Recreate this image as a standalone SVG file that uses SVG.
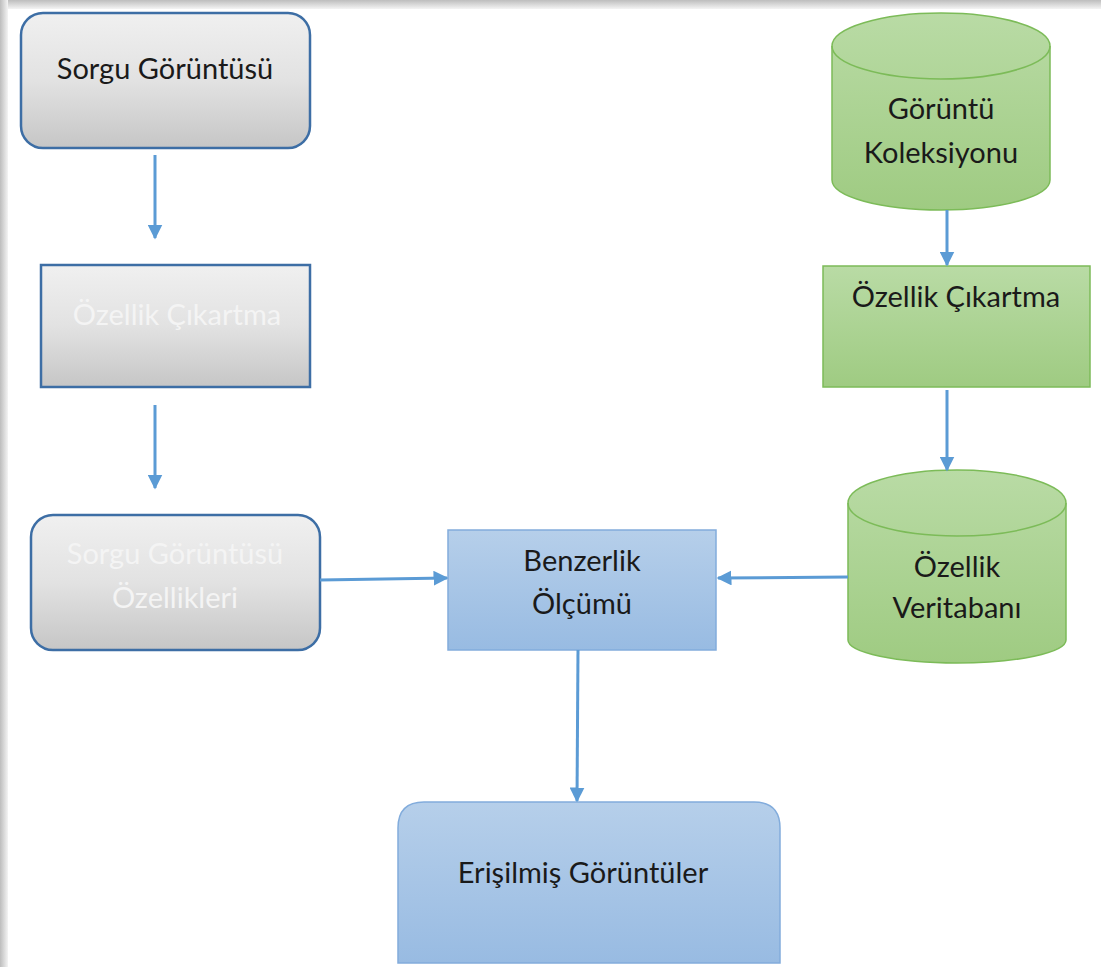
<svg xmlns="http://www.w3.org/2000/svg" width="1101" height="967" viewBox="0 0 1101 967">
<defs>
<linearGradient id="gGray" x1="0" y1="0" x2="0" y2="1"><stop offset="0" stop-color="#f0f0f0"/><stop offset="0.5" stop-color="#e2e2e2"/><stop offset="1" stop-color="#c6c6c6"/></linearGradient>
<linearGradient id="gBlue" x1="0" y1="0" x2="0" y2="1"><stop offset="0" stop-color="#b6cfea"/><stop offset="1" stop-color="#98bbe2"/></linearGradient>
<linearGradient id="gGreen" x1="0" y1="0" x2="0" y2="1"><stop offset="0" stop-color="#b9dba5"/><stop offset="1" stop-color="#9fcb82"/></linearGradient>
<linearGradient id="shTop" x1="0" y1="0" x2="0" y2="1"><stop offset="0" stop-color="#bdbdbd"/><stop offset="1" stop-color="#f4f4f4"/></linearGradient>
<linearGradient id="shLeft" x1="0" y1="0" x2="1" y2="0"><stop offset="0" stop-color="#bdbdbd"/><stop offset="1" stop-color="#f4f4f4"/></linearGradient>
<marker id="ah" markerWidth="5" markerHeight="5" refX="4.5" refY="2.5" orient="auto" markerUnits="strokeWidth"><path d="M0,0 L5,2.5 L0,5 Z" fill="#5b9bd5"/></marker>
<style>
.t{font-family:"Lato","Liberation Sans",sans-serif;font-size:29px;text-anchor:middle;fill:#1a1a1a}
.w{fill:#f4f4f4}
.gray{fill:url(#gGray);stroke:#3d6ea5;stroke-width:2.5}
.blue{fill:url(#gBlue);stroke:#82acdc;stroke-width:1.5}
.green{fill:url(#gGreen);stroke:#7cbb58;stroke-width:1.5}
.c{fill:none;stroke:#5b9bd5;stroke-width:3;marker-end:url(#ah)}
</style>
</defs>
<rect width="1101" height="967" fill="#ffffff"/>
<rect x="0" y="0" width="1101" height="9" fill="url(#shTop)"/>
<rect x="0" y="0" width="8" height="967" fill="url(#shLeft)"/>
<g id="sorgu-goruntusu">
<rect class="gray" x="21" y="13" width="289" height="135" rx="22"/>
<text class="t" x="165" y="79">Sorgu Görüntüsü</text>
</g>
<g id="ozellik-cikartma-left">
<rect class="gray" x="41" y="265" width="269" height="122"/>
<text class="t w" x="177" y="325">Özellik Çıkartma</text>
</g>
<g id="sorgu-ozellikleri">
<rect class="gray" x="31" y="515" width="289" height="135" rx="22"/>
<text class="t w" x="175" y="564">Sorgu Görüntüsü</text>
<text class="t w" x="175" y="608">Özellikleri</text>
</g>
<g id="benzerlik">
<rect class="blue" x="448" y="530" width="268" height="120"/>
<text class="t" x="582" y="571">Benzerlik</text>
<text class="t" x="582" y="614">Ölçümü</text>
</g>
<g id="erisilmis">
<path class="blue" d="M398,963 V828 Q398,802 424,802 H754 Q780,802 780,828 V963 Z"/>
<text class="t" x="583" y="883">Erişilmiş Görüntüler</text>
</g>
<g id="goruntu-koleksiyonu">
<path class="green" d="M832,46 V180 A109,30 0 0 0 1050,180 V46 A109,33 0 0 0 832,46 Z"/>
<path d="M832,46 A109,33 0 0 0 1050,46" fill="none" stroke="#7cbb58" stroke-width="1.5"/>
<text class="t" x="941" y="119">Görüntü</text>
<text class="t" x="941" y="163">Koleksiyonu</text>
</g>
<g id="ozellik-cikartma-right">
<rect class="green" x="823" y="266" width="267" height="121"/>
<text class="t" x="956" y="307">Özellik Çıkartma</text>
</g>
<g id="ozellik-veritabani">
<path class="green" d="M848,503 V640 A109,23 0 0 0 1066,640 V503 A109,33 0 0 0 848,503 Z"/>
<path d="M848,503 A109,33 0 0 0 1066,503" fill="none" stroke="#7cbb58" stroke-width="1.5"/>
<text class="t" x="957" y="577">Özellik</text>
<text class="t" x="957" y="618">Veritabanı</text>
</g>
<g id="connectors">
<line class="c" x1="155" y1="155" x2="155" y2="238"/>
<line class="c" x1="155" y1="405" x2="155" y2="488"/>
<line class="c" x1="320" y1="580" x2="447" y2="578"/>
<line class="c" x1="848" y1="577" x2="718" y2="578"/>
<line class="c" x1="578" y1="650" x2="577" y2="801"/>
<line class="c" x1="947" y1="210" x2="947" y2="265"/>
<line class="c" x1="947" y1="390" x2="947" y2="470"/>
</g>
</svg>
